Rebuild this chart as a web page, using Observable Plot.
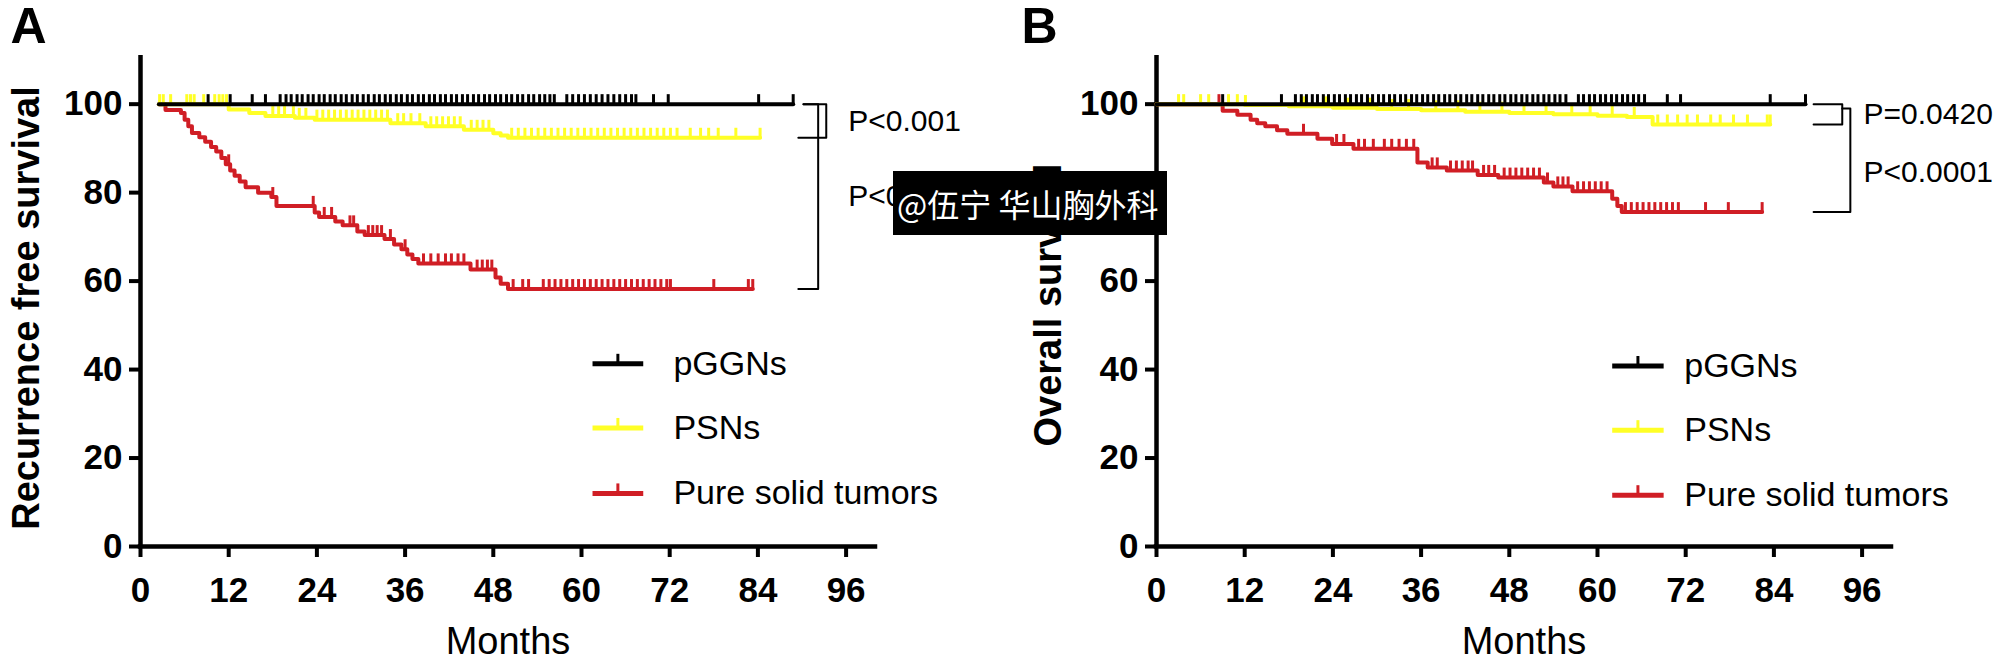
<!DOCTYPE html>
<html>
<head>
<meta charset="utf-8">
<script src="https://cdn.jsdelivr.net/npm/d3@7"></script>
<script src="https://cdn.jsdelivr.net/npm/@observablehq/plot@0.6"></script>
<style>
  html, body { margin: 0; padding: 0; background: #fff; }
  #fig { position: relative; width: 2001px; height: 662px; overflow: hidden; background: #fff; }
  .panel { position: absolute; top: 0; }
  .panel svg { max-width: none; overflow: visible; display: block; }
  #watermark { position: absolute; left: 893px; top: 171px; width: 274px; height: 64px; background: #000; color: #fff;
    font-family: "Noto Sans CJK SC", sans-serif; font-size: 32px; line-height: 64px; white-space: nowrap;
    padding-left: 4px; box-sizing: border-box; }
</style>
</head>
<body>
<div id="fig">
  <div id="panelA" class="panel" style="left:0px"></div>
  <div id="panelB" class="panel" style="left:1000px"></div>
  <div id="watermark">@伍宁 华山胸外科</div>
</div>
<script>
// ---------- shared labels ----------
const xTicks = [0, 12, 24, 36, 48, 60, 72, 84, 96];
const yTicks = [0, 20, 40, 60, 80, 100];
const groups = ["pGGNs", "PSNs", "Pure solid tumors"];
const groupColors = ["#000000", "#ffff26", "#d01e25"];

// ---------- Panel A: recurrence free survival ----------
const rfsGGNTimes = [2.5];
const rfsGGNSurv = [100];
const rfsGGNEnd = 88.8;
const rfsGGNCensor = [9.2, 12.2, 15.2, 17.0, 19.0, 19.8, 20.5, 21.3, 22.0, 22.8, 23.5, 24.3, 25.0, 25.8, 26.5, 27.3, 28.0, 28.8, 29.5, 30.3, 31.0, 31.8, 32.5, 33.3, 34.0, 34.8, 35.5, 36.3, 37.0, 37.8, 38.5, 39.3, 40.0, 40.8, 41.5, 42.3, 43.0, 43.8, 44.5, 45.3, 46.0, 46.8, 47.5, 48.3, 49.0, 49.8, 50.5, 51.3, 52.0, 52.8, 53.5, 54.3, 55.0, 55.7, 56.3, 58.0, 58.8, 59.6, 60.4, 61.2, 62.0, 62.8, 63.6, 64.4, 65.2, 66.0, 66.8, 67.4, 69.8, 71.8, 84.1, 88.8];

const rfsPSNTimes = [2.5, 12.0, 14.8, 17.0, 21.0, 23.7, 34.0, 38.8, 44.0, 48.0, 49.0, 50.0];
const rfsPSNSurv = [100, 98.8, 98.0, 97.3, 96.9, 96.5, 95.7, 95.0, 94.2, 93.4, 92.9, 92.4];
const rfsPSNEnd = 84.3;
const rfsPSNCensor = [2.6, 3.1, 4.1, 6.3, 6.8, 7.3, 8.6, 10.1, 10.7, 11.2, 11.7, 18.0, 18.8, 19.6, 20.8, 21.6, 22.5, 24.0, 24.8, 25.6, 26.4, 27.2, 28.0, 28.8, 29.6, 30.4, 31.2, 32.0, 32.8, 33.6, 35.0, 35.8, 36.8, 38.0, 39.5, 40.3, 41.1, 41.9, 42.7, 43.5, 45.0, 45.8, 46.6, 47.4, 50.5, 51.4, 52.3, 53.2, 54.1, 55.0, 55.9, 56.8, 57.7, 58.6, 59.5, 60.4, 61.3, 62.2, 63.1, 64.0, 64.9, 65.8, 66.7, 67.6, 68.5, 69.4, 70.3, 71.2, 72.1, 73.0, 74.8, 76.2, 77.3, 78.6, 81.0, 84.3];

const rfsSolidTimes = [2.5, 3.4, 5.5, 6.0, 6.5, 7.0, 8.0, 8.8, 9.6, 10.3, 11.0, 11.6, 12.2, 12.8, 13.5, 14.3, 16.0, 17.8, 18.5, 23.7, 24.3, 26.5, 27.5, 29.5, 30.5, 33.2, 34.5, 35.5, 36.3, 37.0, 37.8, 44.9, 48.3, 49.0, 50.0];
const rfsSolidSurv = [100, 98.7, 98.0, 96.5, 95.0, 93.5, 92.5, 91.5, 90.3, 89.3, 87.8, 86.4, 85.0, 83.8, 82.5, 81.2, 80.0, 79.0, 77.0, 75.5, 74.5, 73.5, 72.6, 71.2, 70.4, 69.5, 68.3, 67.2, 66.0, 65.0, 64.0, 62.6, 60.8, 59.4, 58.2];
const rfsSolidEnd = 83.3;
const rfsSolidCensor = [12.0, 18.0, 23.5, 25.0, 26.0, 28.5, 29.0, 31.0, 31.6, 32.2, 32.8, 34.0, 36.0, 38.5, 39.5, 40.5, 41.5, 42.3, 43.2, 44.0, 45.8, 46.5, 47.2, 47.8, 50.7, 52.0, 52.8, 54.8, 55.6, 56.4, 57.2, 58.0, 58.8, 59.6, 60.4, 61.2, 62.0, 62.8, 63.6, 64.4, 65.2, 66.0, 66.8, 67.6, 68.4, 69.2, 70.0, 70.8, 71.6, 72.1, 78.0, 82.7, 83.3];

const rfsPValues = ["P<0.001", "P<0.0001"];

// ---------- Panel B: overall survival ----------
const osGGNTimes = [0];
const osGGNSurv = [100];
const osGGNEnd = 88.3;
const osGGNCensor = [9.0, 17.0, 18.9, 19.7, 20.4, 21.2, 21.9, 22.7, 23.4, 24.2, 24.9, 25.7, 26.4, 27.2, 27.9, 28.7, 29.4, 30.2, 30.9, 31.7, 32.4, 33.2, 33.9, 34.7, 35.4, 36.2, 36.9, 37.7, 38.4, 39.2, 39.9, 40.7, 41.4, 42.2, 42.9, 43.7, 44.4, 45.2, 45.9, 46.7, 47.4, 48.2, 48.9, 49.7, 50.4, 51.2, 51.9, 52.7, 53.4, 54.2, 54.9, 55.7, 57.4, 58.1, 58.9, 59.6, 60.4, 61.1, 61.9, 62.6, 63.4, 64.1, 64.9, 65.6, 66.4, 69.5, 71.3, 83.5, 88.3];

const osPSNTimes = [0, 12, 18, 24, 30, 36, 42, 48, 54, 60, 64, 67.5];
const osPSNSurv = [100, 99.8, 99.5, 99.2, 98.9, 98.6, 98.3, 98.0, 97.7, 97.4, 97.1, 95.4];
const osPSNEnd = 83.5;
const osPSNCensor = [3.0, 3.7, 6.0, 7.1, 9.8, 11.0, 12.1, 20.0, 23.0, 26.0, 29.0, 32.0, 34.3, 38.0, 41.0, 44.0, 47.0, 50.0, 53.0, 56.5, 59.0, 62.0, 65.0, 68.2, 69.5, 70.9, 72.2, 73.6, 75.4, 76.7, 78.5, 80.4, 83.1, 83.5];

const osSolidTimes = [0, 9.0, 11.0, 12.8, 13.7, 14.8, 16.4, 17.8, 21.9, 23.9, 26.8, 35.5, 36.9, 39.5, 43.7, 46.5, 52.7, 54.0, 56.6, 62.0, 62.7, 63.3];
const osSolidSurv = [100, 98.5, 97.6, 96.5, 95.7, 95.0, 94.1, 93.3, 92.2, 91.0, 89.9, 86.8, 85.7, 85.0, 84.0, 83.4, 82.3, 81.4, 80.3, 78.6, 77.0, 75.6];
const osSolidEnd = 82.4;
const osSolidCensor = [8.5, 20.0, 24.5, 25.5, 27.5, 28.3, 29.5, 31.0, 32.0, 33.0, 34.0, 35.0, 37.5, 38.2, 40.0, 40.8, 41.6, 42.4, 43.0, 44.5, 45.2, 46.0, 47.3, 48.1, 48.9, 49.7, 50.5, 51.3, 52.1, 53.2, 54.6, 55.3, 56.0, 57.3, 58.1, 58.9, 59.7, 60.5, 61.3, 63.8, 64.6, 65.4, 66.2, 67.0, 67.8, 68.6, 69.4, 70.2, 71.0, 74.7, 77.8, 82.4];

const osPValues = ["P=0.0420", "P<0.0001"];

// ---------- helpers ----------
function stepAt(times, surv, t) {
  let s = surv[0];
  for (let i = 0; i < times.length; i++) if (times[i] <= t) s = surv[i];
  return s;
}
function kmLine(times, surv, end) {
  const pts = times.map((t, i) => ({t, s: surv[i]}));
  pts.push({t: end, s: surv[surv.length - 1]});
  return pts;
}
function censorPts(times, surv, cens) {
  return cens.map(t => ({t, s: stepAt(times, surv, t)}));
}
// vertical censor tick drawn upward from the curve
const censorMark = { draw(ctx) { ctx.moveTo(0, 1); ctx.lineTo(0, -10); } };

function buildPanel(cfg) {
  const marks = [];
  marks.push(Plot.ruleX([0], {stroke: "#000", strokeWidth: 4.5}));
  marks.push(Plot.ruleY([0], {stroke: "#000", strokeWidth: 4.5, strokeLinecap: "square"}));
  marks.push(Plot.axisX({ticks: xTicks, tickSize: 11, tickPadding: 20, strokeWidth: 4, fontSize: 35, fontWeight: "bold", label: null, tickFormat: d => String(d)}));
  marks.push(Plot.axisY({ticks: yTicks, tickSize: 11, tickPadding: 7, strokeWidth: 4, fontSize: 35, fontWeight: "bold", label: null, tickFormat: d => String(d)}));

  // curves: draw red, then yellow, then black on top
  for (const i of [2, 1, 0]) {
    const sr = cfg.series[i];
    marks.push(Plot.line(kmLine(sr.times, sr.surv, sr.end), {x: "t", y: "s", curve: "step-after", stroke: groupColors[i], strokeWidth: 4}));
    marks.push(Plot.dot(censorPts(sr.times, sr.surv, sr.censor), {x: "t", y: "s", symbol: censorMark, fill: "none", stroke: groupColors[i], strokeWidth: 3, r: 4}));
  }

  // brackets between final survival levels
  const finals = cfg.series.map(sr => sr.surv[sr.surv.length - 1]);
  cfg.brackets.forEach((b, k) => {
    const top = b.top != null ? b.top : finals[b.from];
    const bottom = finals[b.to];
    const pts = [
      {t: b.x0, s: top}, {t: b.xv, s: top}, {t: b.xv, s: bottom}, {t: b.x1, s: bottom}
    ];
    marks.push(Plot.line(pts, {x: "t", y: "s", stroke: "#000", strokeWidth: 2}));
    marks.push(Plot.text([cfg.pvalues[k]], {x: cfg.pX, y: (top + bottom) / 2, text: d => d, textAnchor: "start", fontSize: 30, dy: b.dy || 0}));
  });

  // legend
  groups.forEach((g, i) => {
    const y = cfg.legendRows[i];
    marks.push(Plot.link([g], {x1: cfg.legendX[0], x2: cfg.legendX[1], y1: y, y2: y, stroke: groupColors[i], strokeWidth: 5}));
    marks.push(Plot.dot([g], {x: (cfg.legendX[0] + cfg.legendX[1]) / 2, y: y, symbol: censorMark, fill: "none", stroke: groupColors[i], strokeWidth: 3, r: 4}));
    marks.push(Plot.text([g], {x: cfg.legendX[2], y: y, text: d => d, textAnchor: "start", fontSize: 34}));
  });

  // titles
  marks.push(Plot.text([cfg.yTitle], {frameAnchor: "left", rotate: -90, dx: cfg.titleDx, dy: cfg.titleDy, textAnchor: "middle", lineAnchor: "middle", text: d => d, fontSize: 38, fontWeight: "bold"}));
  marks.push(Plot.text(["Months"], {frameAnchor: "bottom", dy: 107, textAnchor: "middle", lineAnchor: "bottom", text: d => d, fontSize: 38}));
  marks.push(Plot.text([cfg.letter], {frameAnchor: "top-left", dx: cfg.letterDx, dy: -13, textAnchor: "start", lineAnchor: "bottom", text: d => d, fontSize: 50, fontWeight: "bold"}));

  return Plot.plot({
    width: cfg.width, height: 662,
    marginLeft: cfg.marginLeft, marginRight: cfg.marginRight, marginTop: 55, marginBottom: 116,
    x: {domain: [0, 100], axis: null},
    y: {domain: [0, 111], axis: null},
    style: {fontFamily: "'Liberation Sans', Arial, Helvetica, sans-serif", color: "#000", background: "transparent", overflow: "visible"},
    marks
  });
}

const panelA = buildPanel({
  letter: "A", yTitle: "Recurrence free survival",
  width: 1000, marginLeft: 140, marginRight: 125, letterDx: -130, titleDx: -114, titleDy: 7,
  series: [
    {times: rfsGGNTimes, surv: rfsGGNSurv, end: rfsGGNEnd, censor: rfsGGNCensor},
    {times: rfsPSNTimes, surv: rfsPSNSurv, end: rfsPSNEnd, censor: rfsPSNCensor},
    {times: rfsSolidTimes, surv: rfsSolidSurv, end: rfsSolidEnd, censor: rfsSolidCensor}
  ],
  brackets: [
    {from: 0, to: 1, x0: 90.2, xv: 93.3, x1: 89.5},
    {from: 0, to: 2, x0: 90.2, xv: 92.2, x1: 89.5}
  ],
  pvalues: rfsPValues, pX: 96.3,
  legendRows: [41.3, 26.8, 12.0], legendX: [61.5, 68.4, 72.5]
});

const panelB = buildPanel({
  letter: "B", yTitle: "Overall survival",
  width: 1001, marginLeft: 156, marginRight: 110, letterDx: -135, titleDx: -108, titleDy: 4,
  series: [
    {times: osGGNTimes, surv: osGGNSurv, end: osGGNEnd, censor: osGGNCensor},
    {times: osPSNTimes, surv: osPSNSurv, end: osPSNEnd, censor: osPSNCensor},
    {times: osSolidTimes, surv: osSolidSurv, end: osSolidEnd, censor: osSolidCensor}
  ],
  brackets: [
    {from: 0, to: 1, x0: 89.4, xv: 93.3, x1: 89.4},
    {from: 0, to: 2, top: 99, x0: 93.3, xv: 94.4, x1: 89.4, dy: 12}
  ],
  pvalues: osPValues, pX: 96.2,
  legendRows: [40.8, 26.3, 11.6], legendX: [62.0, 69.0, 71.8]
});

document.getElementById("panelA").appendChild(panelA);
document.getElementById("panelB").appendChild(panelB);
</script>
</body>
</html>
